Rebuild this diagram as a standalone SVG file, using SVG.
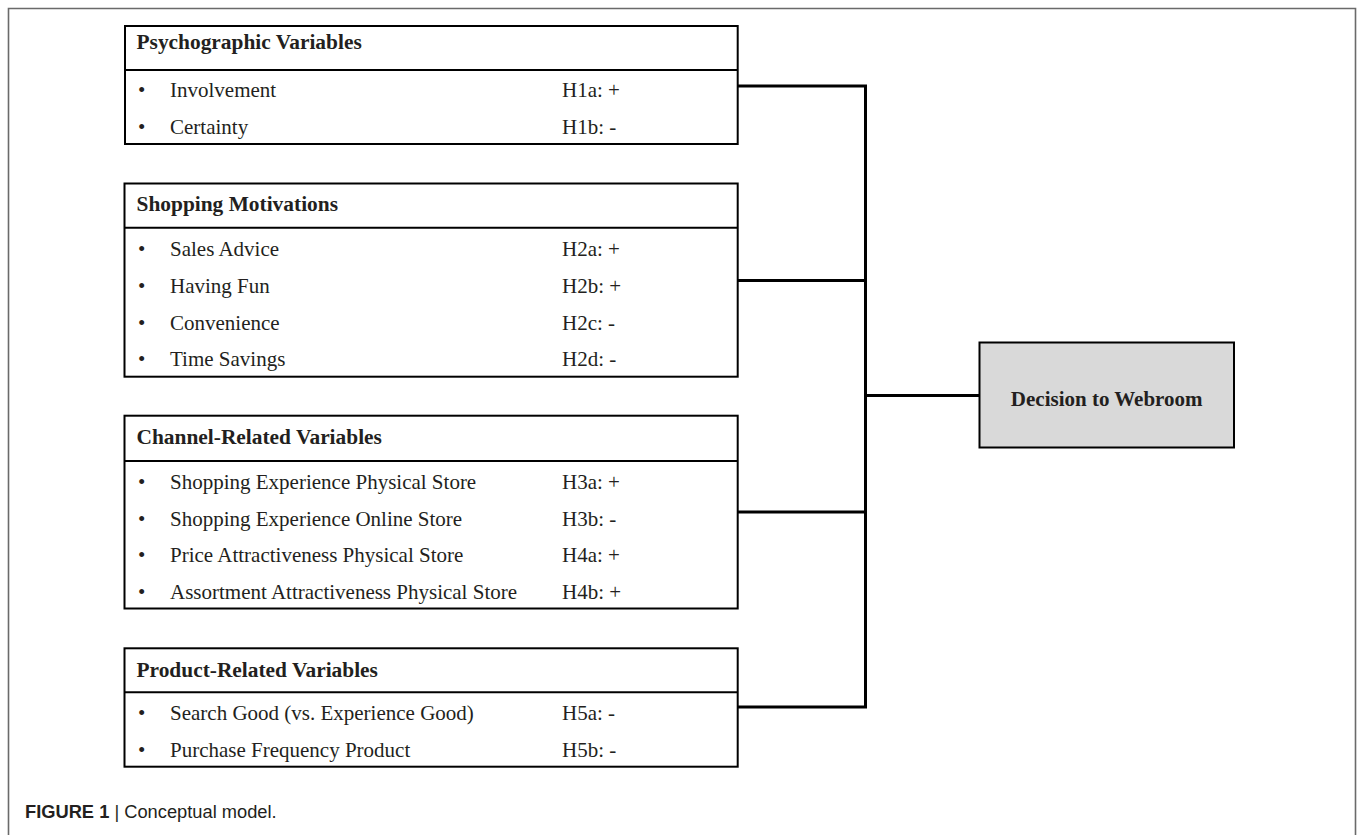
<svg xmlns="http://www.w3.org/2000/svg" width="1357" height="835" viewBox="0 0 1357 835">
<style>
.box{fill:#ffffff;stroke:#000;stroke-width:2}
.sep{stroke:#000;stroke-width:2}
.hd{font-family:"Liberation Serif","Times New Roman",serif;font-weight:bold;font-size:21.4px;fill:#231f20}
.it{font-family:"Liberation Serif","Times New Roman",serif;font-size:21px;fill:#231f20}
.conn{fill:none;stroke:#000;stroke-width:3}
.cap{font-family:"Liberation Sans",Arial,sans-serif;font-size:18.3px;fill:#231f20}
</style>
<rect width="1357" height="835" fill="#ffffff"/>
<path d="M8.5,840 V8.5 H1355.5 V840" fill="none" stroke="#6a6a6a" stroke-width="1.6"/>

<g id="connectors">
<path class="conn" d="M738,86 H865.5 V707 H738"/>
<path class="conn" d="M738,280.5 H865.5"/>
<path class="conn" d="M738,512 H865.5"/>
<path class="conn" d="M865.5,395.5 H979.5"/>
</g>

<g id="psychographic">
<rect class="box" x="125" y="26" width="612.7" height="118"/>
<line class="sep" x1="125" y1="70" x2="737.7" y2="70"/>
<text class="hd" x="136.5" y="48.5">Psychographic Variables</text>
<text class="it" x="138" y="96.5">•</text><text class="it" x="170" y="96.5">Involvement</text><text class="it" x="562" y="96.5">H1a: +</text>
<text class="it" x="138" y="133.5">•</text><text class="it" x="170" y="133.5">Certainty</text><text class="it" x="562" y="133.5">H1b: -</text>
</g>

<g id="shopping">
<rect class="box" x="124.5" y="183.5" width="613.2" height="193.2"/>
<line class="sep" x1="124.5" y1="227.7" x2="737.7" y2="227.7"/>
<text class="hd" x="136.5" y="210.5">Shopping Motivations</text>
<text class="it" x="138" y="255.5">•</text><text class="it" x="170" y="255.5">Sales Advice</text><text class="it" x="562" y="255.5">H2a: +</text>
<text class="it" x="138" y="292.5">•</text><text class="it" x="170" y="292.5">Having Fun</text><text class="it" x="562" y="292.5">H2b: +</text>
<text class="it" x="138" y="329.5">•</text><text class="it" x="170" y="329.5">Convenience</text><text class="it" x="562" y="329.5">H2c: -</text>
<text class="it" x="138" y="366">•</text><text class="it" x="170" y="366">Time Savings</text><text class="it" x="562" y="366">H2d: -</text>
</g>

<g id="channel">
<rect class="box" x="124.5" y="415.7" width="613.2" height="192.8"/>
<line class="sep" x1="124.5" y1="461" x2="737.7" y2="461"/>
<text class="hd" x="136.5" y="444">Channel-Related Variables</text>
<text class="it" x="138" y="489">•</text><text class="it" x="170" y="489">Shopping Experience Physical Store</text><text class="it" x="562" y="489">H3a: +</text>
<text class="it" x="138" y="525.5">•</text><text class="it" x="170" y="525.5">Shopping Experience Online Store</text><text class="it" x="562" y="525.5">H3b: -</text>
<text class="it" x="138" y="562">•</text><text class="it" x="170" y="562">Price Attractiveness Physical Store</text><text class="it" x="562" y="562">H4a: +</text>
<text class="it" x="138" y="599">•</text><text class="it" x="170" y="599">Assortment Attractiveness Physical Store</text><text class="it" x="562" y="599">H4b: +</text>
</g>

<g id="product">
<rect class="box" x="124.5" y="648.3" width="613.2" height="118.4"/>
<line class="sep" x1="124.5" y1="692.3" x2="737.7" y2="692.3"/>
<text class="hd" x="136.5" y="677">Product-Related Variables</text>
<text class="it" x="138" y="720">•</text><text class="it" x="170" y="720">Search Good (vs. Experience Good)</text><text class="it" x="562" y="720">H5a: -</text>
<text class="it" x="138" y="756.5">•</text><text class="it" x="170" y="756.5">Purchase Frequency Product</text><text class="it" x="562" y="756.5">H5b: -</text>
</g>

<g id="decision">
<rect x="979.5" y="342.5" width="254.5" height="105" fill="#d9d9d9" stroke="#000" stroke-width="2"/>
<text class="hd" x="1106.7" y="405.5" text-anchor="middle" style="font-size:21px">Decision to Webroom</text>
</g>

<text class="cap" x="25" y="817.5"><tspan font-weight="bold">FIGURE 1</tspan> | Conceptual model.</text>
</svg>
